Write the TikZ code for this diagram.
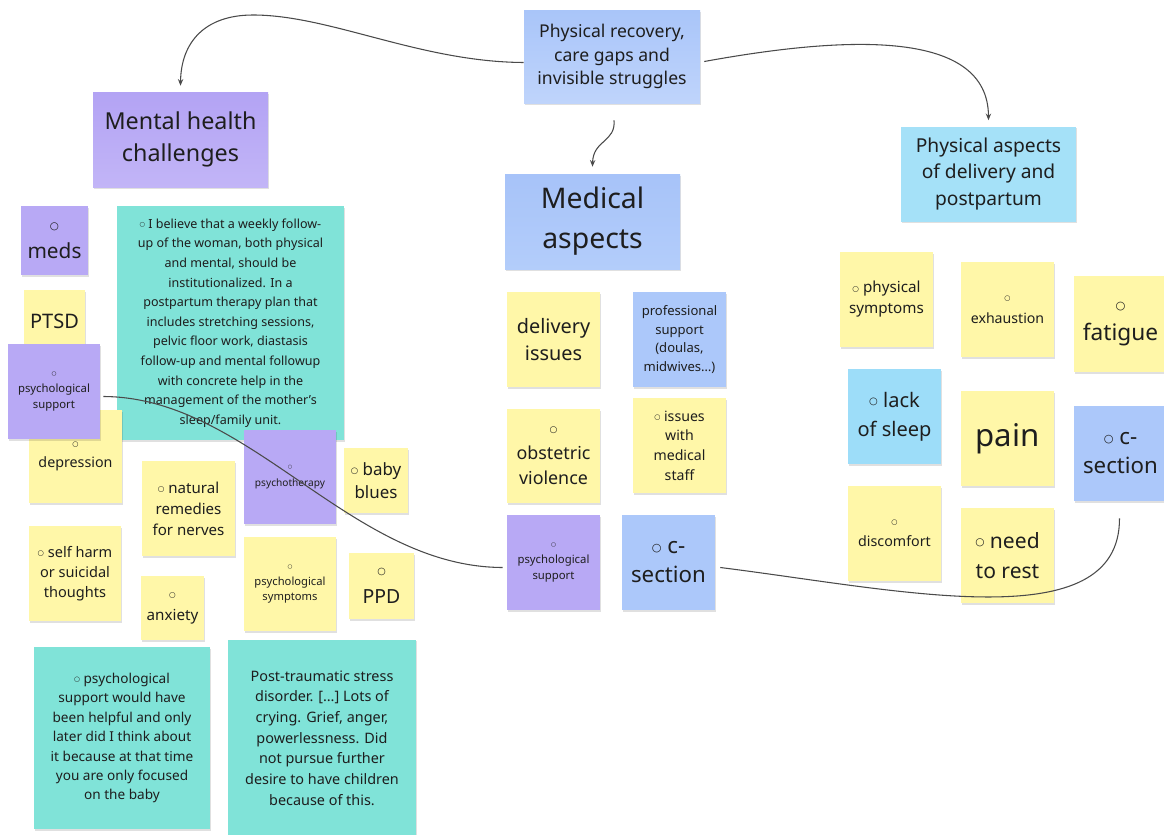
\documentclass[tikz,border=0pt]{standalone}
\usepackage{fontspec}
\setmainfont{Noto Sans}
\newfontfamily\djv{DejaVu Sans}
\usetikzlibrary{arrows.meta,shadows,calc}
\newdimen\pxu \pxu=0.75pt
\newcommand\wb{\raisebox{0.12em}{\scalebox{0.5}{\djv ○}}}
\newcommand\fsz[2]{\fontsize{#1}{#2}\selectfont}
\definecolor{yel}{HTML}{FFF7A8}
\definecolor{vio}{HTML}{B8A9F5}
\definecolor{blu}{HTML}{ACC8FA}
\definecolor{cya}{HTML}{9DDDF9}
\definecolor{tea}{HTML}{80E3D8}
\definecolor{txt}{HTML}{1E1E1E}
\definecolor{lnk}{HTML}{4A4A4A}
\definecolor{prtop}{HTML}{A9C5F9}
\definecolor{prbot}{HTML}{BFD4FB}
\definecolor{mhtop}{HTML}{B3A3F4}
\definecolor{mhbot}{HTML}{C2B5F7}
\definecolor{matop}{HTML}{A7C3F9}
\definecolor{mabot}{HTML}{B3CDFA}
\definecolor{pafill}{HTML}{A5E1F8}
\tikzset{
  note/.style={inner sep=0pt, align=center, text=txt,
    drop shadow={shadow xshift=0.4pt, shadow yshift=-1.2pt, opacity=0.12, fill=black}},
  sz/.style 2 args={minimum width=#1\pxu, minimum height=#2\pxu},
  yel/.style={note, fill=yel},
  vio/.style={note, fill=vio},
  blu/.style={note, fill=blu},
  cya/.style={note, fill=cya},
  tea/.style={note, fill=tea},
  link/.style={draw=lnk, line width=0.8pt},
  arr/.style={link, -{Stealth[length=5pt,width=4pt]}},
}
\begin{document}
\begin{tikzpicture}[x=0.75pt,y=-0.75pt]
\useasboundingbox[fill=white] (0,0) rectangle (1164,835);

% headers
\node[note, sz={176}{93}, top color=prtop, bottom color=prbot, font=\fsz{13.2}{17.6}] (pr) at (612,56.5)
  {Physical recovery,\\care gaps and\\invisible struggles};
\node[note, sz={175}{95}, top color=mhtop, bottom color=mhbot, font=\fsz{17.5}{24}] (mh) at (180.5,139.5)
  {Mental health\\challenges};
\node[note, sz={175}{95}, top color=matop, bottom color=mabot, font=\fsz{21.3}{30}] (ma) at (592.5,221.5)
  {Medical\\aspects};
\node[note, sz={175}{95}, fill=pafill, font=\fsz{14.4}{19.9}] (pa) at (988.5,174)
  {Physical aspects\\of delivery and\\postpartum};

% left column
\node[vio, sz={67}{69}, font=\fsz{15.6}{20}] (meds) at (54.5,240.5) {\wb\\meds};
\node[yel, sz={61}{62}, font=\fsz{15}{20}] (ptsd) at (54.5,321) {PTSD};
\node[tea, sz={227}{234}, font=\fsz{9.4}{14.7}] (t1) at (230.5,323)
  {\wb{} I believe that a weekly follow-\\up of the woman, both physical\\and mental, should be\\institutionalized. In a\\postpartum therapy plan that\\includes stretching sessions,\\pelvic floor work, diastasis\\follow-up and mental followup\\with concrete help in the\\management of the mother's\\sleep/family unit.};
\node[yel, sz={93}{93}, font=\fsz{10.7}{15}] (dep) at (75.5,456.5) {\wb\\depression};
\node[vio, sz={92}{95}, font=\fsz{8.5}{11.6}] (psl) at (54,391.5) {\wb\\psychological\\support};
\node[yel, sz={93}{95}, font=\fsz{11.3}{15.75}] (nat) at (188.5,508.5) {\wb{} natural\\remedies\\for nerves};
\node[vio, sz={92}{94}, font=\fsz{7.6}{12}] (pst) at (290,477) {\wb\\psychotherapy};
\node[yel, sz={64}{65}, font=\fsz{12.7}{17}] (bb) at (376,480.5) {\wb{} baby\\blues};
\node[yel, sz={92}{95}, font=\fsz{10.9}{15}] (sh) at (75,573.5) {\wb{} self harm\\or suicidal\\thoughts};
\node[yel, sz={63}{64}, font=\fsz{11.4}{15.75}] (anx) at (172.5,608) {\wb\\anxiety};
\node[yel, sz={92}{94}, font=\fsz{8.4}{11.6}] (psy) at (290,584) {\wb\\psychological\\symptoms};
\node[yel, sz={65}{66}, font=\fsz{14.6}{20}] (ppd) at (381.5,586) {\wb\\PPD};
\node[tea, sz={176}{182}, font=\fsz{10.2}{14.6}] (t2) at (122,738)
  {\wb{} psychological\\support would have\\been helpful and only\\later did I think about\\it because at that time\\you are only focused\\on the baby};
\node[tea, sz={188}{197}, font=\fsz{10.8}{15.5}] (t3) at (322,738)
  {Post-traumatic stress\\disorder. […] Lots of\\crying. Grief, anger,\\powerlessness. Did\\not pursue further\\desire to have children\\because of this.};

% middle column
\node[yel, sz={93}{95}, font=\fsz{14.9}{20.25}] (del) at (553.5,339.5) {delivery\\issues};
\node[blu, sz={93}{95}, font=\fsz{9.8}{13.9}] (prof) at (679.5,339.5) {professional\\support\\(doulas,\\midwives…)};
\node[yel, sz={93}{94}, font=\fsz{13.4}{18.75}] (obs) at (553.5,456) {\wb\\obstetric\\violence};
\node[yel, sz={93}{95}, font=\fsz{10.6}{14.7}] (ims) at (679.5,445.5) {\wb{} issues\\with\\medical\\staff};
\node[vio, sz={93}{95}, font=\fsz{8.5}{11.6}] (psm) at (553.5,562.5) {\wb\\psychological\\support};
\node[blu, sz={93}{95}, font=\fsz{16.7}{21.75}] (csm) at (668.5,562.5) {\wb{} c-\\section};

% right column
\node[yel, sz={93}{95}, font=\fsz{11.4}{15.75}] (phs) at (886.5,299.5) {\wb{} physical\\symptoms};
\node[yel, sz={93}{95}, font=\fsz{10.6}{15.75}] (exh) at (1007.5,309.5) {\wb\\exhaustion};
\node[yel, sz={93}{96}, font=\fsz{17}{21.75}] (fat) at (1120.5,324) {\wb\\fatigue};
\node[cya, sz={93}{95}, font=\fsz{15}{21.75}] (lck) at (894.5,416.5) {\wb{} lack\\of sleep};
\node[yel, sz={93}{95}, font=\fsz{23.4}{30}] (pain) at (1007.5,438.5) {pain};
\node[blu, sz={93}{95}, font=\fsz{16.7}{21.75}] (csr) at (1120.5,453.5) {\wb{} c-\\section};
\node[yel, sz={93}{95}, font=\fsz{10.7}{15}] (dis) at (894.5,533.5) {\wb\\discomfort};
\node[yel, sz={93}{95}, font=\fsz{15.8}{22.5}] (rest) at (1007.5,555.5) {\wb{} need\\to rest};

% connectors
\draw[arr] ($(pr.west)+(0,6)$) .. controls (420,62) and (330,15) .. (253,15)
  .. controls (205,15) and (181,42) .. ($(mh.north)+(0,-6)$);
\draw[arr] ($(pr.east)+(4,5)$) .. controls (850,35) and (988,30) .. ($(pa.north)+(0,-6)$);
\draw[arr] ($(pr.south)+(2,17)$) .. controls (616,142) and (593,140) .. ($(ma.north)+(0,-7)$);
\draw[link] ($(psl.east)+(3,5)$) .. controls (250,397) and (350,567) .. ($(psm.west)+(-4,5)$);
\draw[link] ($(csm.east)+(5,5)$) .. controls (900,590) and (1120,640) .. ($(csr.south)+(-1,17)$);
\end{tikzpicture}
\end{document}
